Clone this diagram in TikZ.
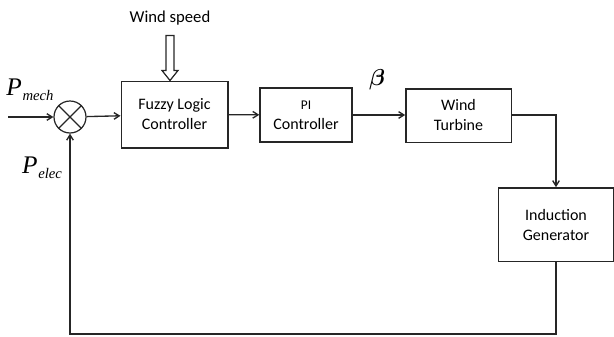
\documentclass[tikz,border=0pt]{standalone}
\usepackage{amsmath,amssymb}
\usepackage{fontspec}
\setmainfont{Carlito}
\newfontfamily\timesfont{Liberation Serif}
\usepackage{tikz}
\usetikzlibrary{arrows.meta, positioning, calc}

\tikzset{
  block/.style={draw=black!85, rectangle, line width=1pt, align=center, font=\fontsize{12}{15}\selectfont},
  sumnode/.style={draw=black!85, circle, line width=0.9pt, minimum size=24pt, inner sep=0pt},
  sig/.style={draw=black!85, -{Straight Barb[length=4pt,width=5pt]}, line width=1pt},
  wire/.style={draw=black!85, line width=0.9pt}
}
\newcommand{\powlabel}[1]{{\timesfont\itshape\fontsize{19}{19}\selectfont P\kern0.5pt\raisebox{-0.45ex}{\fontsize{11}{11}\selectfont #1}}}

\begin{document}
\begin{tikzpicture}[x=0.75pt, y=-0.75pt]
    \useasboundingbox (0,0) rectangle (614,336);
    % Blocks
    \node (sum) [sumnode] at (70,117) {};
    \draw[wire] (sum.north west) -- (sum.south east) (sum.north east) -- (sum.south west);
    \node (flc) [block, minimum width=80pt, minimum height=50pt] at (174.5,114.5) {Fuzzy Logic\\Controller};
    \node (pi) [block, minimum width=69pt, minimum height=40.5pt] at (306,115) {{\fontsize{10}{12}\selectfont PI}\\Controller};
    \node (wt) [block, minimum width=79pt, minimum height=40pt] at (458.5,115.5) {Wind\\Turbine};
    \node (ig) [block, minimum width=86pt, minimum height=55pt] at (556,224.5) {Induction\\Generator};

    % Inputs and labels
    \coordinate (in) at (8,117);
    \node (wind) [font=\fontsize{12.5}{14}\selectfont] at (170,18) {Wind speed};
    \coordinate (windtip) at ($(flc.north)+(-4.5,0)$);
    \node (pmech) at (30,90) {\powlabel{mech}};
    \node (pelec) at (42,168) {\powlabel{elec}};
    \node (beta) at (377,80) {\fontsize{18}{18}\selectfont$\boldsymbol{\beta}$};
    \coordinate (corner) at (70,334);

    % Wind speed input (hollow arrow)
    \draw[wire, line join=miter] (windtip) -- ++(-8,-10) -- ++(4,0) -- ++(0,-35) -- ++(8,0)
        -- ++(0,35) -- ++(4,0) -- cycle;

    % Signal flow
    \draw[sig] (in) -- (sum);
    \draw[sig] (sum) -- (flc);
    \draw[sig] (flc) -- (pi);
    \draw[sig] (pi.east) -- (wt.west |- pi.east);
    \draw[sig] (wt.east |- 0,115) -| (ig.north);
    \draw[sig] (ig.south) |- (corner) -- (sum.south);
\end{tikzpicture}
\end{document}
